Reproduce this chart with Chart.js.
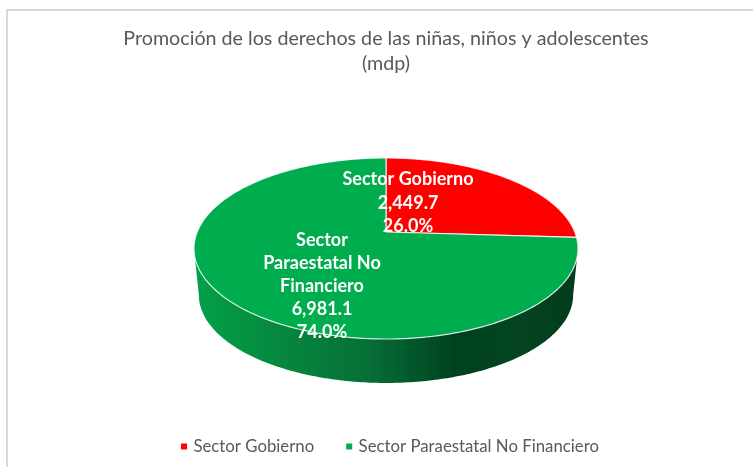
<!DOCTYPE html>
<html><head><meta charset="utf-8">
<style>
html,body{margin:0;padding:0;background:#fff;overflow:hidden;width:753px;height:467px}
#frame{position:absolute;left:6px;top:9px;width:760px;height:470px;border-left:2px solid #d9d9d9;border-top:2px solid #d9d9d9;box-sizing:border-box}
canvas{position:absolute;left:0;top:0}
</style>
<script src="https://cdn.jsdelivr.net/npm/chart.js@4"></script>
</head><body>
<div id="frame"><canvas id="c" width="756" height="454" style="width:756px;height:454px"></canvas></div>
<script>
const categories = ["Sector Gobierno", "Sector Paraestatal No Financiero"];
const values = [2449.7, 6981.1];
const percents = ["26.0%", "74.0%"];
const valueLabels = ["2,449.7", "6,981.1"];
const labelLines = [["Sector Gobierno"], ["Sector", "Paraestatal No", "Financiero"]];
const colors = ["#ff0000", "#00ad4e"];
const titleLines = ["Promoción de los derechos de las niñas, niños y adolescentes", "(mdp)"];

const persp = -0.1823;
const GEO = {A:188.8, a:87.5, y0:221, A2:184, a2:85, y2:268, labelX:[22,-64], labelY:[168.5,229.5], lh:[23.2,23]};
function rim(cx,A,a,y0,t){const u=Math.cos(t),v=Math.sin(t),w=1+persp*v;return [cx+A*u/w,y0+a*v/w];}

const pie3d = {
  id:'pie3d',
  afterLayout(chart){ chart.legend.left+=5; chart.legend.right+=5; },
  beforeDatasetDraw(chart,args){
    const ctx=chart.ctx, meta=args.meta;
    const sil=Math.asin(-persp), frontA=sil, frontB=Math.PI-sil;
    meta.data.forEach((arc,i)=>{
      const cx=arc.x;
      const a0=Math.max(arc.startAngle,frontA), a1=Math.min(arc.endAngle,frontB);
      if(a1<=a0) return;
      const g=ctx.createLinearGradient(cx-190,0,cx+190,0);
      g.addColorStop(0,'#02a04a');g.addColorStop(0.2,'#068a3f');g.addColorStop(0.45,'#066f37');
      g.addColorStop(0.68,'#00421f');g.addColorStop(0.85,'#03451f');g.addColorStop(1,'#023c1b');
      ctx.beginPath();
      const N=200;
      for(let k=0;k<=N;k++){const t=a0+(a1-a0)*k/N,p=rim(cx,GEO.A,GEO.a,GEO.y0,t);k?ctx.lineTo(p[0],p[1]):ctx.moveTo(p[0],p[1]);}
      for(let k=N;k>=0;k--){const t=a0+(a1-a0)*k/N,p=rim(cx,GEO.A2,GEO.a2,GEO.y2,t);ctx.lineTo(p[0],p[1]);}
      ctx.closePath();ctx.fillStyle=g;ctx.fill();
    });
    meta.data.forEach((arc,i)=>{
      const cx=arc.x;
      ctx.beginPath();ctx.moveTo(cx,GEO.y0);
      const N=300;
      for(let k=0;k<=N;k++){const t=arc.startAngle+(arc.endAngle-arc.startAngle)*k/N,p=rim(cx,GEO.A,GEO.a,GEO.y0,t);ctx.lineTo(p[0],p[1]);}
      ctx.closePath();ctx.fillStyle=colors[i];ctx.fill();
      ctx.strokeStyle='rgba(255,255,255,0.8)';ctx.lineWidth=1.2;ctx.stroke();
    });
    return false;
  },
  afterDatasetsDraw(chart){
    const ctx=chart.ctx, meta=chart.getDatasetMeta(0);
    ctx.save();ctx.fillStyle='#fff';ctx.font='bold 18px Lato';ctx.textAlign='center';ctx.textBaseline='middle';
    meta.data.forEach((arc,i)=>{
      const lines=[...labelLines[i],valueLabels[i],percents[i]];
      lines.forEach((s,k)=>ctx.fillText(s,arc.x+GEO.labelX[i],GEO.labelY[i]+k*GEO.lh[i]));
    });
    ctx.restore();
  }
};

new Chart(document.getElementById('c'),{
  type:'pie',
  data:{labels:categories,datasets:[{data:values,backgroundColor:colors,borderWidth:0}]},
  plugins:[pie3d],
  options:{
    responsive:false,animation:false,
    plugins:{
      tooltip:{enabled:false},
      title:{display:true,text:titleLines,color:'#595959',font:{family:'Lato',size:19.7,weight:'normal',lineHeight:1.27},padding:{top:15,bottom:10}},
      legend:{position:'bottom',labels:{color:'#595959',font:{family:'Lato',size:16.8},usePointStyle:true,pointStyle:'rect',boxWidth:2,boxHeight:6,padding:34}}
    }
  }
});
</script>
</body></html>
